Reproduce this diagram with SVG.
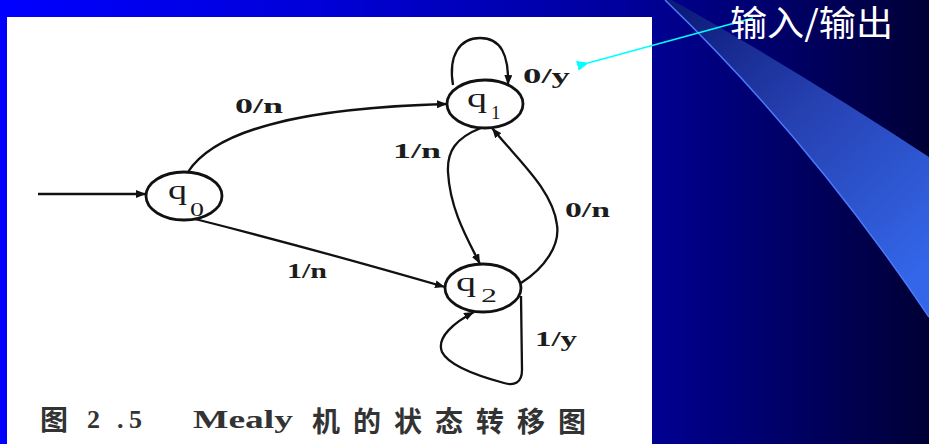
<svg xmlns="http://www.w3.org/2000/svg" width="929" height="444" viewBox="0 0 929 444">
  <defs>
    <linearGradient id="bg" x1="0" y1="0" x2="929" y2="0" gradientUnits="userSpaceOnUse">
      <stop offset="0" stop-color="#0000FF"/>
      <stop offset="0.33" stop-color="#0000DA"/>
      <stop offset="0.67" stop-color="#00009C"/>
      <stop offset="0.84" stop-color="#000068"/>
      <stop offset="1" stop-color="#000035"/>
    </linearGradient>
    <linearGradient id="streak" x1="680" y1="0" x2="929" y2="260" gradientUnits="userSpaceOnUse">
      <stop offset="0" stop-color="#0C1A78"/>
      <stop offset="0.45" stop-color="#2640B0"/>
      <stop offset="1" stop-color="#3366E8"/>
    </linearGradient>
    <marker id="ah" viewBox="0 0 10 8" refX="10" refY="4" markerWidth="10" markerHeight="8" markerUnits="userSpaceOnUse" orient="auto">
      <path d="M0,0 L10,4 L0,8 Z" fill="#111"/>
    </marker>
    <marker id="ahc" viewBox="0 0 12 10" refX="1" refY="5" markerWidth="12" markerHeight="10" markerUnits="userSpaceOnUse" orient="auto">
      <path d="M12,0 L0,5 L12,10 Z" fill="#00FFFF"/>
    </marker>
  </defs>
  <style>
    .node { fill: none; stroke: #111; stroke-width: 2.8; }
    .edge { fill: none; stroke: #111; stroke-width: 2.3; marker-end: url(#ah); }
    .q { font-family: "Liberation Serif", serif; font-size: 28px; fill: #1a1a1a; }
    .sub { font-family: "Liberation Serif", serif; font-size: 19px; fill: #1a1a1a; }
    .lbl { font-family: "Liberation Serif", serif; font-size: 21px; font-weight: bold; fill: #1c1c1c; }
    .cap { font-family: "Liberation Serif", "Noto Sans CJK SC", serif; font-size: 26px; font-weight: bold; fill: #333; }
    .capc { font-family: "Noto Sans CJK SC", sans-serif; font-size: 28px; font-weight: bold; fill: #333; }
    .title { font-family: "Noto Sans CJK SC", sans-serif; font-size: 35px; fill: #FFFFFF; }
  </style>

  <!-- background -->
  <rect x="0" y="0" width="929" height="444" fill="url(#bg)"/>
  <path d="M672,0 Q800,72 929,157 L929,317 Q810,140 665,0 Z" fill="url(#streak)"/>
  <path d="M665,0 Q810,140 929,317" fill="none" stroke="#4A7BFF" stroke-width="1.5"/>
  <rect x="7" y="17" width="645" height="427" fill="#FFFFFF"/>

  <!-- connectors -->
  <g id="connectors">
    <path class="edge" d="M38,194 L146,194"/>
    <path class="edge" d="M188,172 C215,130 300,108 447,104"/>
    <path class="edge" d="M195,219 Q310,248 445,287"/>
    <path class="edge" d="M453,85 C448,55 460,38 480,38 C501,38 509,55 508,85"/>
    <path class="edge" d="M481,128 C455,138 447,152 448,172 C450,210 468,240 480,264"/>
    <path class="edge" d="M521,283 C545,268 560,245 557,225 C553,190 518,160 492,128"/>
    <path class="edge" d="M521,296 L522,370 C522,383 514,386 504,383 C478,376 449,366 442,352 C436,337 455,322 474,312"/>
  </g>

  <!-- edge labels -->
  <g id="edge-labels">
    <text class="lbl" x="235" y="113" textLength="48" lengthAdjust="spacingAndGlyphs">0/n</text>
    <text class="lbl" x="523" y="83" textLength="47" lengthAdjust="spacingAndGlyphs">0/y</text>
    <text class="lbl" x="393" y="158" textLength="48" lengthAdjust="spacingAndGlyphs">1/n</text>
    <text class="lbl" x="565" y="217" textLength="45" lengthAdjust="spacingAndGlyphs">0/n</text>
    <text class="lbl" x="287" y="278" textLength="40" lengthAdjust="spacingAndGlyphs">1/n</text>
    <text class="lbl" x="535" y="346" textLength="42" lengthAdjust="spacingAndGlyphs">1/y</text>
  </g>

  <!-- nodes -->
  <g id="q0">
    <ellipse class="node" cx="184" cy="196" rx="38" ry="24"/>
    <text class="q" x="168" y="199" textLength="19" lengthAdjust="spacingAndGlyphs">q</text>
    <text class="sub" x="190" y="216" textLength="14" lengthAdjust="spacingAndGlyphs">0</text>
  </g>
  <g id="q1">
    <ellipse class="node" cx="485" cy="104" rx="38" ry="24"/>
    <text class="q" x="467" y="107" textLength="20" lengthAdjust="spacingAndGlyphs">q</text>
    <text class="sub" x="491" y="119">1</text>
  </g>
  <g id="q2">
    <ellipse class="node" cx="483" cy="288" rx="38" ry="24"/>
    <text class="q" x="456" y="291" textLength="20" lengthAdjust="spacingAndGlyphs">q</text>
    <text class="sub" x="481" y="302" textLength="16" lengthAdjust="spacingAndGlyphs">2</text>
  </g>

  <!-- caption -->
  <g id="caption">
    <text class="capc" x="40" y="430">图</text>
    <text class="cap" x="87 117 129" y="428">2.5</text>
    <text class="cap" x="193" y="428" textLength="100" lengthAdjust="spacingAndGlyphs">Mealy</text>
    <text class="capc" x="312 353 394 435 476 517 558" y="432">机的状态转移图</text>
  </g>

  <!-- annotation -->
  <g id="annotation">
    <line x1="753" y1="18" x2="588" y2="63" stroke="#00FFFF" stroke-width="1.6" marker-end="url(#ahc)"/>
    <text class="title" x="730" y="36" textLength="163" lengthAdjust="spacingAndGlyphs">输入/输出</text>
  </g>
</svg>
